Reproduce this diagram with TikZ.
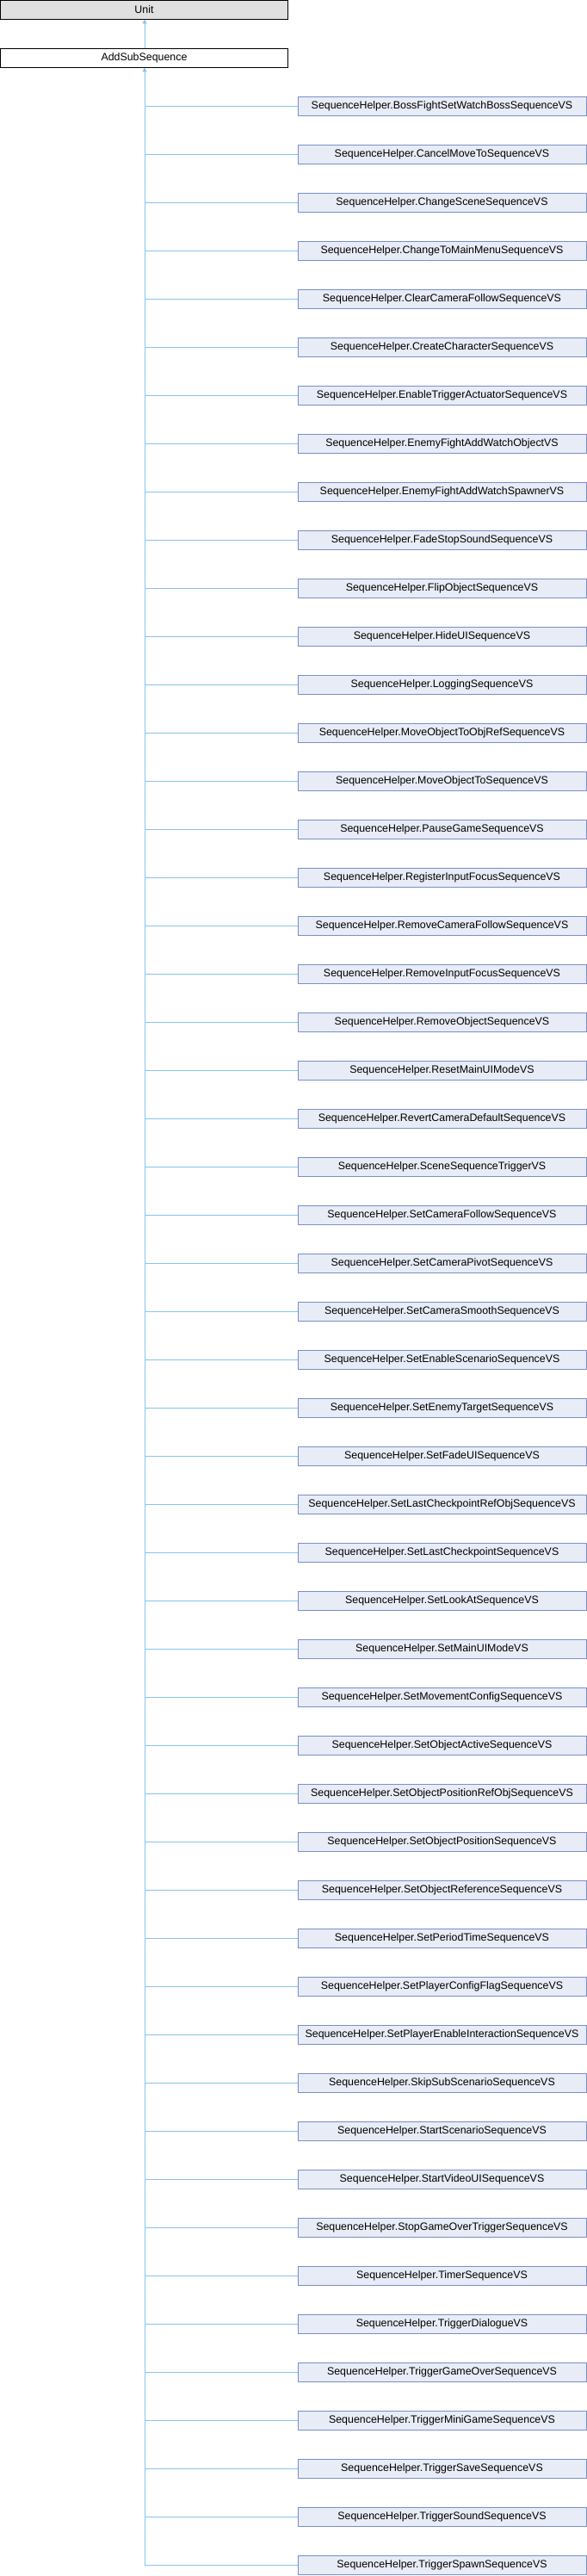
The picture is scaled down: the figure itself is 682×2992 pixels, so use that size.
\documentclass[tikz,border=0pt]{standalone}
\usepackage{fontspec}
\setmainfont{Liberation Sans}
\usetikzlibrary{arrows.meta}
\definecolor{unitfill}{HTML}{E0E0E0}
\definecolor{kidfill}{HTML}{E8ECF6}
\definecolor{kidline}{HTML}{7A8FC8}
\definecolor{edgeblue}{HTML}{86C4EC}
\begin{document}
\begin{tikzpicture}[x=1pt,y=-1pt]
 \tikzset{box/.style={draw, line width=1pt, inner sep=0pt, outer sep=0pt, minimum height=22pt, font=\fontsize{12.4}{14}\selectfont},
  base/.style={box, minimum width=334pt},
  kid/.style={box, draw=kidline, fill=kidfill, minimum width=335pt},
  edge/.style={draw=edgeblue, line width=1pt},
  inherit/.style={edge, -{Triangle[width=5pt,length=5pt]}}}
  \useasboundingbox (0,0) rectangle (682,2992);
  \node[base, fill=unitfill] (U) at (167.5,11.5) {Unit};
  \node[base, fill=white] (A) at (167.5,67.5) {AddSubSequence};
  \draw[inherit] (A.north -| 168,0) -- (U.south -| 168,0);
  \foreach \name [count=\i] in {BossFightSetWatchBossSequenceVS, CancelMoveToSequenceVS,
    ChangeSceneSequenceVS, ChangeToMainMenuSequenceVS, ClearCameraFollowSequenceVS,
    CreateCharacterSequenceVS, EnableTriggerActuatorSequenceVS, EnemyFightAddWatchObjectVS,
    EnemyFightAddWatchSpawnerVS, FadeStopSoundSequenceVS, FlipObjectSequenceVS,
    HideUISequenceVS, LoggingSequenceVS, MoveObjectToObjRefSequenceVS, MoveObjectToSequenceVS,
    PauseGameSequenceVS, RegisterInputFocusSequenceVS, RemoveCameraFollowSequenceVS,
    RemoveInputFocusSequenceVS, RemoveObjectSequenceVS, ResetMainUIModeVS,
    RevertCameraDefaultSequenceVS, SceneSequenceTriggerVS, SetCameraFollowSequenceVS,
    SetCameraPivotSequenceVS, SetCameraSmoothSequenceVS, SetEnableScenarioSequenceVS,
    SetEnemyTargetSequenceVS, SetFadeUISequenceVS, SetLastCheckpointRefObjSequenceVS,
    SetLastCheckpointSequenceVS, SetLookAtSequenceVS, SetMainUIModeVS,
    SetMovementConfigSequenceVS, SetObjectActiveSequenceVS, SetObjectPositionRefObjSequenceVS,
    SetObjectPositionSequenceVS, SetObjectReferenceSequenceVS, SetPeriodTimeSequenceVS,
    SetPlayerConfigFlagSequenceVS, SetPlayerEnableInteractionSequenceVS,
    SkipSubScenarioSequenceVS, StartScenarioSequenceVS, StartVideoUISequenceVS,
    StopGameOverTriggerSequenceVS, TimerSequenceVS, TriggerDialogueVS,
    TriggerGameOverSequenceVS, TriggerMiniGameSequenceVS, TriggerSaveSequenceVS,
    TriggerSoundSequenceVS, TriggerSpawnSequenceVS}
  {
    \node[kid] (C\i) at (513.5,{123.5+56*(\i-1)}) {SequenceHelper.\name};
    \draw[edge] (C\i.west) -- (C\i.west -| 168,0);
  }
  \draw[inherit] (C52.west -| 168,0) -- (A.south -| 168,0);
\end{tikzpicture}
\end{document}
